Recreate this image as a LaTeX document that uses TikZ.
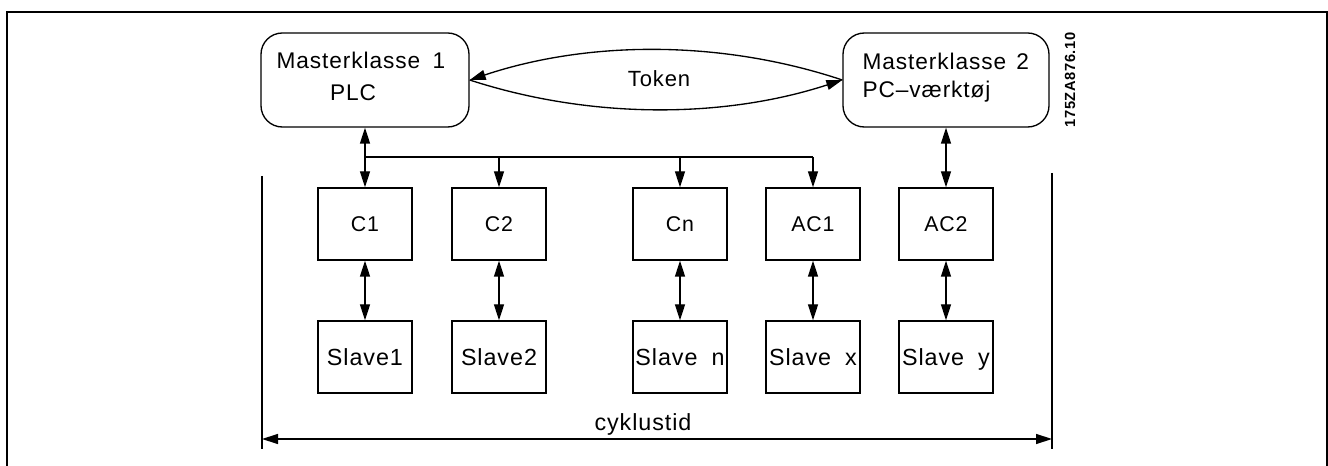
\documentclass[tikz,border=0pt]{standalone}
\usepackage{fontspec}
\setmainfont{Liberation Sans}[LetterSpace=4]
\usetikzlibrary{arrows.meta}
\begin{document}
\begin{tikzpicture}[x=0.75pt,y=-0.75pt,line width=1pt,
  arw/.tip={Triangle[length=12pt,width=7.5pt]},
  master/.style={draw,rounded corners=16pt,minimum width=156pt,minimum height=70.5pt,inner sep=0pt},
  ctrl/.style={draw,minimum width=70.5pt,minimum height=54pt,inner sep=0pt,text height=11.5pt,text depth=0pt,font=\fontsize{16}{18}\selectfont},
  slave/.style={draw,minimum width=70.5pt,minimum height=54pt,inner sep=0pt,text height=12.5pt,text depth=0pt,font=\fontsize{17.5}{20}\selectfont},
  txt/.style={inner sep=0pt,font=\fontsize{17}{20}\selectfont},
  one/.style={-arw},
  two/.style={arw-arw}]
\useasboundingbox (0,0) rectangle (1328,466);
% outer frame
\draw[line width=1.5pt] (6.5,12.5) rectangle (1326.5,475);

% master stations
\node[master] (m1) at (365,80) {};
\node[master,minimum width=154.5pt] (m2) at (946,80) {};
\node[txt,anchor=base] (m1a) at (361,69) {Masterklasse\hspace{0.55em}1};
\node[txt,anchor=base] (m1b) at (353,101) {PLC};
\node[txt,anchor=base west] (m2a) at (862,70) {Masterklasse\hspace{0.45em}2};
\node[txt,anchor=base west] (m2b) at (862,98) {PC–værktøj};

% token passing
\node[txt,anchor=base,font=\fontsize{16.5}{20}\selectfont] (tok) at (659,87) {Token};
\draw[one] (m2.west) .. controls +(-120,-40) and +(120,-40) .. (m1.east);
\draw[one] (m1.east) .. controls +(120,39) and +(-120,39) .. (m2.west);

% drawing number
\node[rotate=90,inner sep=0pt,font=\bfseries\fontsize{11}{12}\selectfont] (code) at (1070,80) {175ZA876.10};

% controllers
\node[ctrl] (c1) at (365,224) {C1};
\node[ctrl] (c2) at (499,224) {C2};
\node[ctrl] (cn) at (680,224) {Cn};
\node[ctrl] (ac1) at (813,224) {AC1};
\node[ctrl] (ac2) at (946,224) {AC2};

% slaves
\node[slave] (s1) at (365,357) {Slave1};
\node[slave] (s2) at (499,357) {Slave2};
\node[slave] (sn) at (680,357) {Slave\hspace{0.6em}n};
\node[slave] (sx) at (813,357) {Slave\hspace{0.6em}x};
\node[slave] (sy) at (946,357) {Slave\hspace{0.6em}y};

% bus from master 1
\coordinate (bus) at (0,157);
\coordinate (b1) at (m1.south |- bus);
\coordinate (b4) at (ac1.north |- bus);
\draw[one] (b1) -- (m1.south);
\draw[one] (b1) -- (c1.north);
\draw (b1) -- (b4);
\draw[one] (c2.north |- bus) -- (c2.north);
\draw[one] (cn.north |- bus) -- (cn.north);
\draw[one] (b4) -- (ac1.north);
\draw[two] (ac2.north) -- (m2.south);

% controller to slave links
\draw[two] (c1.south) -- (s1.north);
\draw[two] (c2.south) -- (s2.north);
\draw[two] (cn.south) -- (sn.north);
\draw[two] (ac1.south) -- (sx.north);
\draw[two] (ac2.south) -- (sy.north);

% cycle time dimension
\coordinate (lt) at (262,176);
\coordinate (lb) at (262,449);
\coordinate (rt) at (1052,173);
\coordinate (rb) at (1052,449);
\draw (lt) -- (lb);
\draw (rt) -- (rb);
\coordinate (al) at (262,439);
\coordinate (ar) at (1052,439);
\draw[two] (al) -- (ar);
\node[txt,anchor=base,font=\fontsize{17.5}{20}\selectfont] (cyc) at (643,431) {cyklustid};
\end{tikzpicture}
\end{document}
